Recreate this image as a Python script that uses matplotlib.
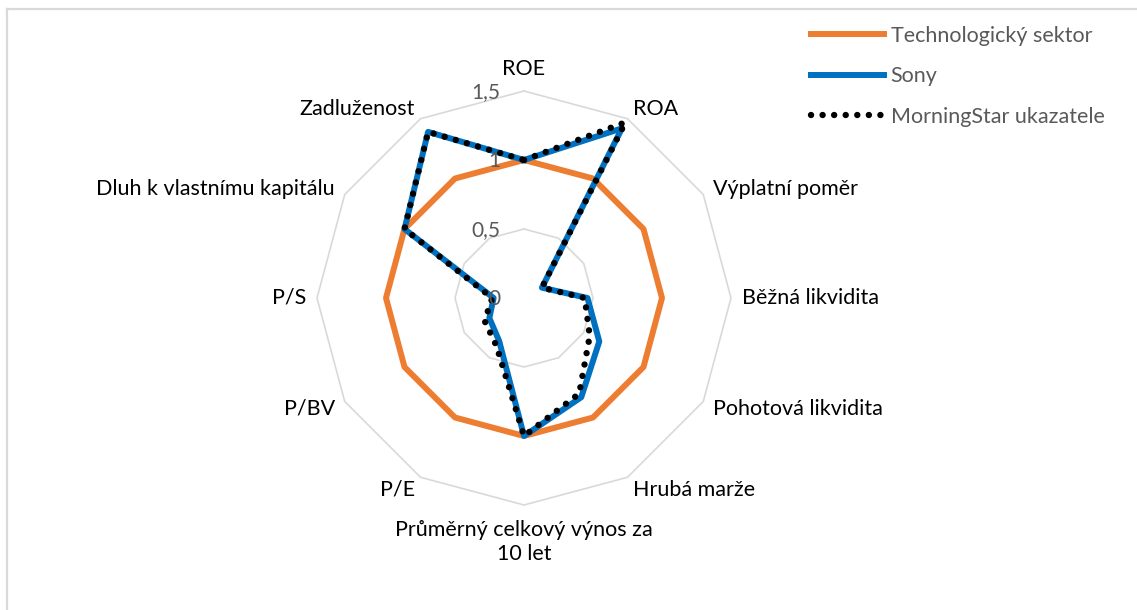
import numpy as np
import matplotlib.pyplot as plt
from matplotlib.lines import Line2D

plt.rcParams['font.family'] = ['Lato', 'DejaVu Sans']

# kategorie (po směru hodinových ručiček od vrcholu)
kategorie = ['ROE', 'ROA', 'Výplatní poměr', 'Běžná likvidita', 'Pohotová likvidita',
             'Hrubá marže', 'Průměrný celkový výnos za\n10 let', 'P/E', 'P/BV', 'P/S',
             'Dluh k vlastnímu kapitálu', 'Zadluženost']

# hodnoty
tech_sektor = [1, 1, 1, 1, 1, 1, 1, 1, 1, 1, 1, 1]
sony = [1.0, 1.42, 0.15, 0.46, 0.63, 0.83, 1.0, 0.36, 0.29, 0.22, 1.0, 1.39]
morningstar = [1.0, 1.47, 0.15, 0.44, 0.55, 0.80, 1.0, 0.40, 0.33, 0.23, 1.0, 1.39]

urovne = [0, 0.5, 1, 1.5]
popisky_urovni = ['0', '0,5', '1', '1,5']

n = len(kategorie)
uhly = np.linspace(0, 2 * np.pi, n, endpoint=False)
uhly_z = np.append(uhly, uhly[0])

def uzavri(hodnoty):
    return np.append(hodnoty, hodnoty[0])

fig = plt.figure(figsize=(11.37, 6.10), dpi=100)

# rámeček grafu (vlevo a nahoře, zbytek je oříznutý)
fig.add_artist(Line2D([6.5 / 1137, 6.5 / 1137], [0, 1 - 8.5 / 610], color='#d9d9d9', lw=1.6))
fig.add_artist(Line2D([6.5 / 1137, 1], [1 - 8.5 / 610, 1 - 8.5 / 610], color='#d9d9d9', lw=1.6))

cx, cy, R = 524, 298, 207
ax = fig.add_axes([(cx - R) / 1137, (610 - cy - R) / 610, 2 * R / 1137, 2 * R / 610], polar=True)
ax.set_theta_offset(np.pi / 2)
ax.set_theta_direction(-1)
ax.set_ylim(0, 1.5)
ax.grid(False)
ax.set_xticks([])
ax.set_yticks([])
ax.spines['polar'].set_visible(False)
ax.patch.set_alpha(0)

# mnohoúhelníková mřížka
for u in urovne[1:]:
    ax.plot(uhly_z, [u] * (n + 1), color='#d9d9d9', lw=1.2, clip_on=False, zorder=1)

ax.plot(uhly_z, uzavri(tech_sektor), color='#ed7d31', lw=4.3, clip_on=False, zorder=3,
        label='Technologický sektor')
ax.plot(uhly_z, uzavri(sony), color='#0070c0', lw=4.3, clip_on=False, zorder=4, label='Sony')
ax.plot(uhly_z, uzavri(morningstar), color='black', lw=4.6, linestyle=(0, (0.01, 1.8)),
        dash_capstyle='round', clip_on=False, zorder=5, label='MorningStar ukazatele')

# popisky osy
for u, t in zip(urovne, popisky_urovni):
    ax.annotate(t, xy=(0, u), xytext=(-17, -1), textcoords='offset points',
                ha='right', va='center', fontsize=15, color='#595959', zorder=6)

# popisky kategorií
for uhel, k in zip(uhly, kategorie):
    s = np.sin(uhel)
    c = np.cos(uhel)
    if abs(s) < 0.01:
        ha = 'center'
        va = 'bottom' if c > 0 else 'top'
    else:
        ha = 'left' if s > 0 else 'right'
        va = 'center'
    ax.annotate(k, xy=(uhel, 1.5), xytext=(8 * s, 8.5 * c if c > 0 else 10.5 * c),
                textcoords='offset points', ha=ha, va=va, fontsize=15.5, color='black',
                multialignment='center', linespacing=1.3, annotation_clip=False)

fig.legend(loc='upper left', bbox_to_anchor=(811 / 1137, 1 - 26 / 610), frameon=False,
           fontsize=15.5, handlelength=3.4, handletextpad=0.3, labelspacing=0.95,
           borderpad=0, borderaxespad=0, labelcolor='#595959')

fig.savefig('out.png', dpi=100)
